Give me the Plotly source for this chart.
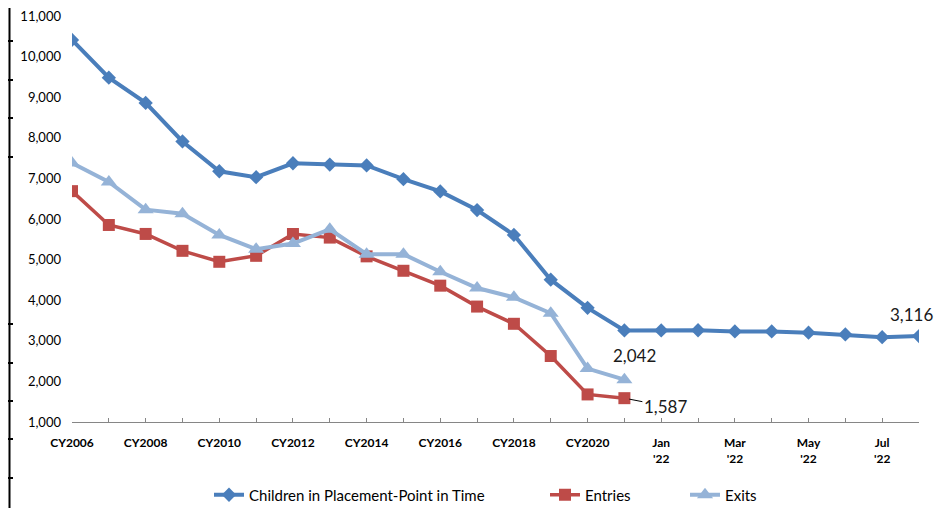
import plotly.graph_objects as go

# ---- data ----
categories = ["CY2006", "CY2007", "CY2008", "CY2009", "CY2010", "CY2011", "CY2012", "CY2013",
              "CY2014", "CY2015", "CY2016", "CY2017", "CY2018", "CY2019", "CY2020", "CY2021",
              "Jan '22", "Feb '22", "Mar '22", "Apr '22", "May '22", "Jun '22", "Jul '22", "Aug '22"]
tick_labels = ["CY2006", "", "CY2008", "", "CY2010", "", "CY2012", "", "CY2014", "", "CY2016", "",
               "CY2018", "", "CY2020", "", "Jan<br>'22", "", "Mar<br>'22", "", "May<br>'22", "",
               "Jul<br>'22", ""]
placement = [10410, 9480, 8860, 7910, 7176, 7030, 7373, 7340, 7320, 6980, 6680, 6221, 5608,
             4505, 3811, 3255, 3255, 3260, 3230, 3230, 3200, 3157, 3090, 3116]
entries = [6686, 5853, 5632, 5216, 4946, 5093, 5630, 5542, 5080, 4725, 4358, 3843, 3419,
           2625, 1679, 1587]
exits = [7380, 6914, 6230, 6130, 5608, 5257, 5395, 5747, 5134, 5134, 4701, 4301, 4071,
         3679, 2316, 2042]

names = ["Children in Placement-Point in Time", "Entries", "Exits"]

BLUE = "#4A7EBB"
RED = "#BE4B48"
LBLUE = "#95B3D7"
FONT = "Lato"

# page has an 8px body margin, so the figure is sized to fill the window from there
O = 8
W, H = 949 - O, 508 - O
L, T = 72 - O, 16 - O
R = W - (919 - O)
B = H - (422 - O)
pw, ph = W - L - R, H - T - B


def paper(sx, sy):
    """screen pixel -> paper coordinates"""
    fx, fy = sx - O, sy - O
    return (fx - L) / pw, (H - B - fy) / ph


fig = go.Figure()
fig.add_trace(go.Scatter(x=categories, y=placement, name=names[0], mode="lines+markers",
                         line=dict(color=BLUE, width=4),
                         marker=dict(symbol="diamond", size=11, color=BLUE),
                         legendwidth=291))
fig.add_trace(go.Scatter(x=categories[:len(entries)], y=entries, name=names[1], mode="lines+markers",
                         line=dict(color=RED, width=3.5),
                         marker=dict(symbol="square", size=12, color=RED),
                         legendwidth=95))
fig.add_trace(go.Scatter(x=categories[:len(exits)], y=exits, name=names[2], mode="lines+markers",
                         line=dict(color=LBLUE, width=4),
                         marker=dict(symbol="triangle-up", size=14, color=LBLUE),
                         legendwidth=60))

ann_font = dict(family=FONT, size=17, color="#1a1a1a")
fig.add_annotation(x=categories[len(placement) - 1], y=placement[-1], text=f"{placement[-1]:,}",
                   showarrow=False, xshift=-8, yshift=22, font=ann_font)
fig.add_annotation(x=categories[len(exits) - 1], y=exits[-1], text=f"{exits[-1]:,}",
                   showarrow=False, xshift=10, yshift=24, font=ann_font)
fig.add_annotation(x=categories[len(entries) - 1], y=entries[-1], text=f"{entries[-1]:,}",
                   showarrow=True, arrowhead=0, arrowwidth=1, arrowcolor="#000000",
                   ax=41, ay=8, standoff=5, font=ann_font)

# decorative left border line with ticks (as in reference crop), at the page's left edge
shapes = []
x0, _ = paper(O + 1.5, 0)
_, yt = paper(0, O)
_, yb = paper(0, 508)
shapes.append(dict(type="line", xref="paper", yref="paper", x0=x0, x1=x0, y0=yb, y1=yt,
                   line=dict(color="#000000", width=2)))
for py in [41, 80, 118, 157, 324, 363, 401, 439, 478]:
    xa, ya = paper(O, py)
    xb, _ = paper(O + 5, py)
    shapes.append(dict(type="line", xref="paper", yref="paper", x0=xa, x1=xb, y0=ya, y1=ya,
                       line=dict(color="#000000", width=2)))

lx, ly = paper(209, 495)
fig.update_layout(
    width=W, height=H,
    margin=dict(l=L, r=R, t=T, b=B, autoexpand=False),
    paper_bgcolor="white", plot_bgcolor="white",
    font=dict(family=FONT, color="#000000"),
    shapes=shapes,
    showlegend=True,
    legend=dict(orientation="h", x=lx, y=ly, xanchor="left", yanchor="middle",
                font=dict(family=FONT, size=15, color="#000000"),
                bgcolor="rgba(0,0,0,0)"),
    xaxis=dict(type="category", range=[0, len(categories) - 1], automargin=False,
               tickmode="array", tickvals=categories, ticktext=tick_labels,
               ticks="inside", ticklen=4, tickcolor="#868686",
               showline=True, linecolor="#868686", linewidth=1,
               showgrid=False, zeroline=False, tickangle=0,
               ticklabelstandoff=10, ticklabeloverflow="allow",
               tickfont=dict(family=FONT, size=12, color="#000000", weight="bold")),
    yaxis=dict(range=[1000, 11000], tickmode="linear", tick0=1000, dtick=1000, automargin=False,
               tickformat=",d", showgrid=False, zeroline=False, showline=False,
               ticks="", ticklabelstandoff=10, ticklabeloverflow="allow",
               tickfont=dict(family=FONT, size=13, color="#000000")),
)

fig.write_html("out.html")
